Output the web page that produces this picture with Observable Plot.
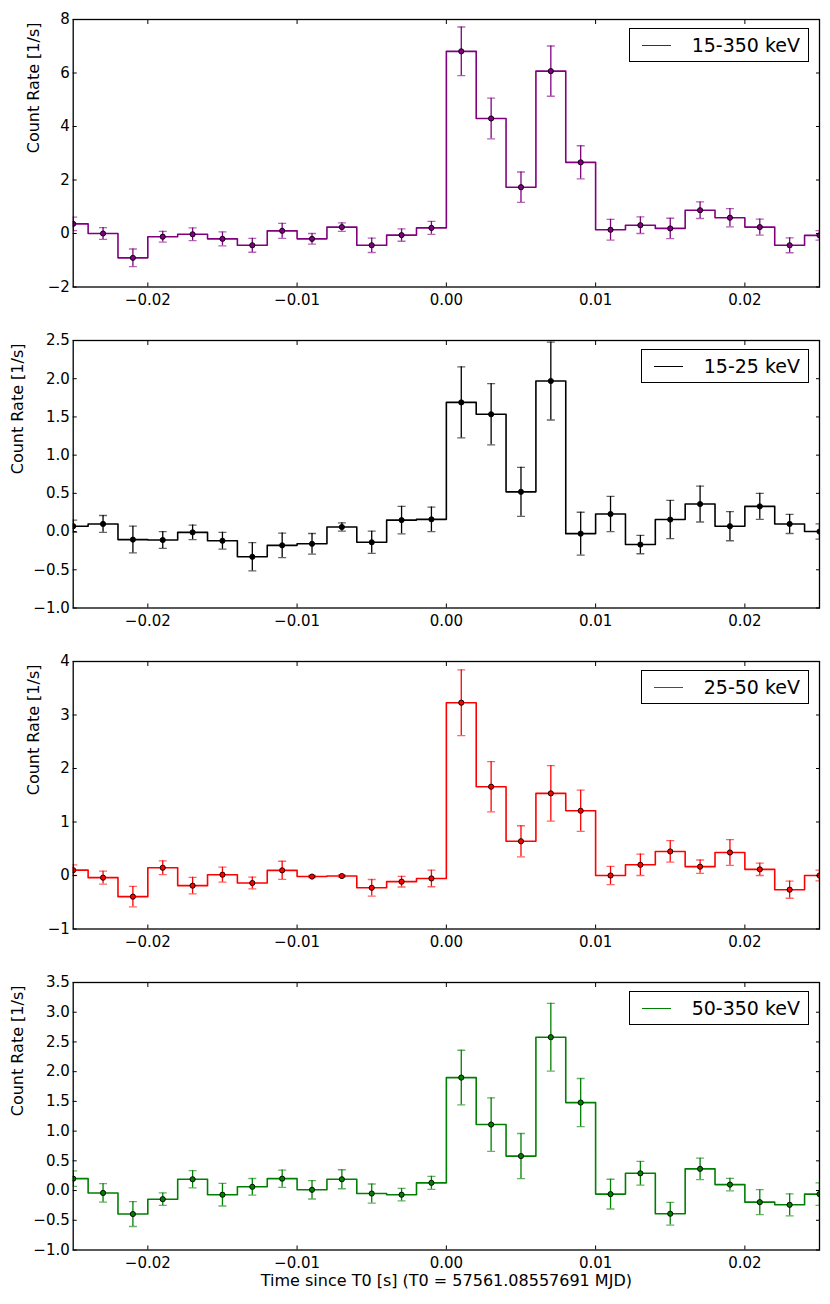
<!DOCTYPE html>
<html><head><meta charset="utf-8">
<script src="https://cdn.jsdelivr.net/npm/d3@7"></script>
<script src="https://cdn.jsdelivr.net/npm/@observablehq/plot@0.6"></script>
<style>
body{margin:0;background:#fff;font-family:"DejaVu Sans",sans-serif;}
#chart{width:830px;position:relative;}
.panel{position:relative;width:830px;}
.legend{position:absolute;right:21px;top:28px;height:34px;box-sizing:border-box;border:1.3px solid #000;background:#fff;display:flex;align-items:center;font-size:19px;padding:0 8px 0 12px;color:#000;}
.legend .sw{width:29px;height:0;border-top:1.5px solid;margin-right:21px;}
svg{display:block}
</style></head><body><div id="chart"></div>
<script>
// bin centres (s since T0)
const time = [-0.025,-0.023,-0.021,-0.019,-0.017,-0.015,-0.013,-0.011,-0.009,-0.007,-0.005,-0.003,-0.001,
              0.001,0.003,0.005,0.007,0.009,0.011,0.013,0.015,0.017,0.019,0.021,0.023,0.025];

// 15-350 keV
const rate1 = [0.36,0.0,-0.91,-0.12,-0.03,-0.2,-0.44,0.1,-0.2,0.24,-0.44,-0.06,0.21,
               6.81,4.3,1.73,6.07,2.66,0.14,0.31,0.19,0.87,0.59,0.24,-0.44,-0.07];
const err1  = [0.25,0.22,0.33,0.2,0.24,0.26,0.26,0.28,0.2,0.16,0.27,0.23,0.24,
               0.91,0.76,0.57,0.94,0.62,0.39,0.31,0.38,0.31,0.34,0.3,0.28,0.18];
// 15-25 keV
const rate2 = [0.07,0.10,-0.105,-0.11,-0.01,-0.12,-0.33,-0.18,-0.16,0.06,-0.14,0.15,0.16,
               1.69,1.535,0.52,1.97,-0.027,0.23,-0.17,0.157,0.36,0.07,0.33,0.1,0.0];
const err2  = [0.08,0.11,0.175,0.11,0.095,0.11,0.185,0.16,0.135,0.055,0.145,0.18,0.16,
               0.465,0.4,0.32,0.51,0.28,0.23,0.12,0.25,0.235,0.19,0.17,0.125,0.1];
// 25-50 keV
const rate3 = [0.10,-0.04,-0.395,0.145,-0.19,0.015,-0.14,0.096,-0.02,-0.01,-0.23,-0.115,-0.055,
               3.23,1.66,0.64,1.535,1.21,0.0,0.2,0.45,0.165,0.43,0.115,-0.265,0.0];
const err3  = [0.1,0.12,0.19,0.13,0.155,0.14,0.11,0.17,0.02,0.02,0.155,0.1,0.155,
               0.615,0.47,0.29,0.52,0.385,0.17,0.2,0.2,0.125,0.24,0.115,0.16,0.1];
// 50-350 keV
const rate4 = [0.2,-0.04,-0.395,-0.145,0.19,-0.07,0.063,0.2,0.013,0.19,-0.05,-0.07,0.13,
               1.9,1.11,0.58,2.58,1.48,-0.06,0.29,-0.39,0.365,0.1,-0.195,-0.24,-0.06];
const err4  = [0.13,0.155,0.21,0.105,0.145,0.19,0.14,0.145,0.155,0.16,0.16,0.105,0.11,
               0.46,0.45,0.38,0.57,0.405,0.25,0.2,0.19,0.18,0.105,0.21,0.185,0.19];

const bands   = ["15-350 keV","15-25 keV","25-50 keV","50-350 keV"];
const colors  = ["#800080","#000000","#ff0000","#008000"];
const xTicks  = [-0.02,-0.01,0,0.01,0.02];
const yTicks1 = [-2,0,2,4,6,8];
const yTicks2 = [-1,-0.5,0,0.5,1,1.5,2,2.5];
const yTicks3 = [-1,0,1,2,3,4];
const yTicks4 = [-1,-0.5,0,0.5,1,1.5,2,2.5,3,3.5];
const yLabel = "Count Rate [1/s]";
const xLabel = "Time since T0 [s] (T0 = 57561.08557691 MJD)";

const panels = [
  {rate:rate1, err:err1, ticks:yTicks1, fmt:d3.format("d"),   labelDx:-39.7},
  {rate:rate2, err:err2, ticks:yTicks2, fmt:d3.format(".1f"), labelDx:-55.7},
  {rate:rate3, err:err3, ticks:yTicks3, fmt:d3.format("d"),   labelDx:-39.7},
  {rate:rate4, err:err4, ticks:yTicks4, fmt:d3.format(".1f"), labelDx:-55.7}
];

const capUp = {draw(c){c.moveTo(-4,0); c.lineTo(4,0);}};
const chart = document.getElementById("chart");

panels.forEach((cfg, k) => {
  const isLast = k === panels.length - 1;
  const color = colors[k];
  const data = time.map((t,i) => ({t, v: cfg.rate[i], lo: cfg.rate[i]-cfg.err[i], hi: cfg.rate[i]+cfg.err[i]}));
  const h = isLast ? 341 : 321;
  const mt = 19, ph = 267.5;
  const marks = [
    Plot.line(data, {x:"t", y:"v", curve:"step", stroke:color, strokeWidth:1.6, clip:true}),
    Plot.ruleX(data, {x:"t", y1:"lo", y2:"hi", stroke:color, strokeWidth:1.3, clip:true}),
    Plot.dot(data, {x:"t", y:"lo", symbol:capUp, stroke:color, strokeOpacity:0.6, strokeWidth:1.3, fill:"none", clip:true}),
    Plot.dot(data, {x:"t", y:"hi", symbol:capUp, stroke:color, strokeOpacity:0.6, strokeWidth:1.3, fill:"none", clip:true}),
    Plot.dot(data, {x:"t", y:"v", r:2.6, fill:color, stroke:"black", strokeWidth:0.9, clip:true}),
    Plot.frame({stroke:"black", strokeWidth:1.3}),
    Plot.axisX(xTicks, {anchor:"bottom", tickSize:-4, tickPadding:11, tickFormat:d3.format(".2f"), label:null}),
    Plot.axisX(xTicks, {anchor:"top", tickSize:-4, tickFormat:() => "", label:null}),
    Plot.axisY(cfg.ticks, {anchor:"left", tickSize:-4, tickPadding:7.4, tickFormat:cfg.fmt, label:null}),
    Plot.axisY(cfg.ticks, {anchor:"right", tickSize:-4, tickFormat:() => "", label:null}),
    Plot.text([yLabel], {frameAnchor:"left", dx:cfg.labelDx, rotate:-90, fontSize:16, text:d => d})
  ];
  if (isLast) marks.push(Plot.text([xLabel], {frameAnchor:"bottom", dy:36, fontSize:16, text:d => d}));
  const svg = Plot.plot({
    width:830, height:h,
    marginLeft:72.7, marginRight:11, marginTop:mt, marginBottom:h - mt - ph,
    style:{fontFamily:"DejaVu Sans", fontSize:"15px", color:"#000", background:"white"},
    x:{domain:[-0.025,0.025]},
    y:{domain:[cfg.ticks[0], cfg.ticks[cfg.ticks.length-1]]},
    marks
  });
  const div = document.createElement("div");
  div.className = "panel";
  div.appendChild(svg);
  const lg = document.createElement("div");
  lg.className = "legend";
  lg.innerHTML = `<span class="sw" style="border-color:${color}"></span><span>${bands[k]}</span>`;
  div.appendChild(lg);
  chart.appendChild(div);
});
</script></body></html>
